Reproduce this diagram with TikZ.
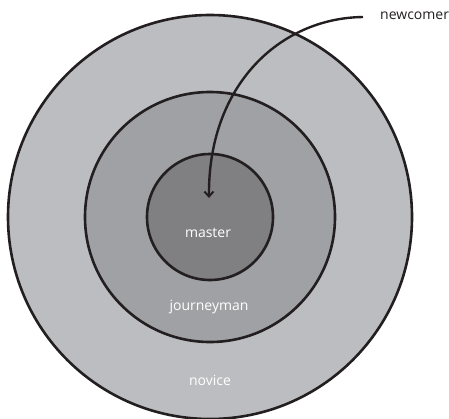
\documentclass[tikz,border=0pt]{standalone}
\usepackage{fontspec}
\setmainfont{Open Sans}
\usetikzlibrary{arrows.meta}
\definecolor{ringA}{HTML}{BCBDC0}
\definecolor{ringB}{HTML}{A0A1A4}
\definecolor{ringC}{HTML}{808083}
\definecolor{ink}{HTML}{231F20}
\tikzset{
  ring/.style={circle, draw=ink, line width=2.6pt, inner sep=0pt},
  lbl/.style={text=white, font=\fontsize{14}{16}\selectfont, inner sep=0pt},
  conn/.style={draw=ink, line width=2.4pt, -{Straight Barb[length=5pt,width=9pt,line width=2pt]}}
}
\begin{document}
\begin{tikzpicture}[x=1pt,y=-1pt]
\useasboundingbox (0,0) rectangle (449,418);
\node[ring, fill=ringA, minimum size=404pt] (outer) at (210,217) {};
\node[ring, fill=ringB, minimum size=250pt] (middle) at (210,217) {};
\node[ring, fill=ringC, minimum size=126pt] (inner) at (210,217) {};
\node[lbl] (master) at (208,233) {master};
\node[lbl] (journeyman) at (209,307) {journeyman};
\node[lbl] (novice) at (210,380) {novice};
\node[font=\fontsize{14}{16}\selectfont, text=ink, anchor=west, inner sep=0pt] (newcomer) at (380,16) {newcomer};
\coordinate (start) at (363,17);
\coordinate (tip) at (209,198);
\draw[conn] (start) .. controls (280,18) and (208,85) .. (tip);
\end{tikzpicture}
\end{document}
